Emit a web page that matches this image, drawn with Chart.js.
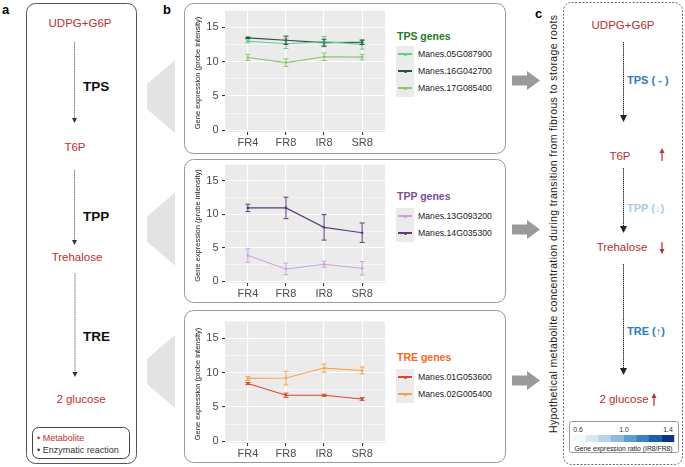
<!DOCTYPE html>
<html>
<head>
<meta charset="utf-8">
<script src="https://cdn.jsdelivr.net/npm/chart.js@4.4.0/dist/chart.umd.min.js"></script>
<style>
  html, body { margin: 0; padding: 0; background: #fff; }
  body { width: 685px; height: 467px; position: relative; overflow: hidden;
         font-family: "Liberation Sans", Arial, sans-serif; }
  #bg { position: absolute; left: 0; top: 0; z-index: 0; }
  canvas { position: absolute; z-index: 2; }
  .legend { position: absolute; left: 396px; top: 0; z-index: 3; }
  .legend .ttl { position: absolute; left: 1px; font-weight: bold; font-size: 10.5px; white-space: nowrap; }
  .legend .keys { position: absolute; left: 0; width: 18px; background: #ebebeb; }
  .legend .row { position: absolute; left: 22px; font-size: 8.7px; color: #1a1a1a; white-space: nowrap; line-height: 10px; }
  .legend .sw { position: absolute; left: 2px; width: 14px; height: 1.2px; }
  .legend .dot { position: absolute; left: 7.5px; width: 3px; height: 3px; border-radius: 50%; }
</style>
</head>
<body>
<canvas id="tps" width="203" height="144" style="left:186px; top:6px;"></canvas>
<canvas id="tpp" width="203" height="141" style="left:186px; top:160px;"></canvas>
<canvas id="tre" width="203" height="144" style="left:186px; top:317px;"></canvas>

<svg id="bg" width="685" height="467" xmlns="http://www.w3.org/2000/svg"
     font-family="Liberation Sans, Arial, sans-serif">
  <!-- panel a -->
  <text x="2" y="14" font-size="13" font-weight="bold">a</text>
  <rect x="26.5" y="3.5" width="110" height="460" rx="9" fill="none" stroke="#555" stroke-width="1"/>
  <g fill="#c0302f" font-size="11.5" text-anchor="middle">
    <text x="80" y="27">UDPG+G6P</text>
    <text x="75" y="151">T6P</text>
    <text x="77" y="261">Trehalose</text>
    <text x="81" y="403">2 glucose</text>
  </g>
  <g stroke="#555" stroke-width="0.8" stroke-dasharray="1.2,0.5">
    <line x1="74.5" y1="42" x2="74.5" y2="119"/>
    <line x1="74.5" y1="170" x2="74.5" y2="241"/>
    <line x1="75" y1="273" x2="75" y2="373"/>
  </g>
  <g fill="#333">
    <polygon points="72,118 77,118 74.5,123"/>
    <polygon points="72,240 77,240 74.5,245"/>
    <polygon points="72.5,372 77.5,372 75,377"/>
  </g>
  <g font-size="13.5" font-weight="bold" fill="#111">
    <text x="83" y="91">TPS</text>
    <text x="83" y="221">TPP</text>
    <text x="83" y="341">TRE</text>
  </g>
  <rect x="32.5" y="427.5" width="97" height="31" rx="6" fill="none" stroke="#444"/>
  <text x="37" y="440.5" font-size="9" fill="#c0302f">• Metabolite</text>
  <text x="37" y="452.5" font-size="9" fill="#333">• Enzymatic reaction</text>

  <!-- panel b decor -->
  <text x="163" y="14" font-size="13" font-weight="bold">b</text>
  <g fill="#e3e3e3">
    <polygon points="147,84 175,60 175,133 147,109"/>
    <polygon points="147,216.5 175,192.5 175,265.5 147,241.5"/>
    <polygon points="147,359 175,335 175,408 147,384"/>
  </g>
  <g fill="none" stroke="#9a9a9a" stroke-width="1">
    <rect x="184.5" y="3.5" width="321" height="150" rx="9"/>
    <rect x="184.5" y="159.5" width="321" height="143" rx="9"/>
    <rect x="184.5" y="310.5" width="321" height="152" rx="9"/>
  </g>
  <g fill="#9a9a9a">
    <polygon points="512,75.5 527,75.5 527,71 540,80.5 527,90 527,85.5 512,85.5"/>
    <polygon points="512,224.5 527,224.5 527,220 540,229.5 527,239 527,234.5 512,234.5"/>
    <polygon points="512,375.5 527,375.5 527,371 540,380.5 527,390 527,385.5 512,385.5"/>
  </g>

  <!-- panel c -->
  <text x="535" y="18" font-size="13" font-weight="bold">c</text>
  <rect x="563.5" y="2.5" width="119" height="462" rx="8" fill="none" stroke="#555" stroke-width="0.9" stroke-dasharray="2,1.6"/>
  <text transform="translate(557,224) rotate(-90)" text-anchor="middle" font-size="10.5" fill="#222"
        textLength="418" lengthAdjust="spacing">Hypothetical metabolite concentration during transition from fibrous to storage roots</text>
  <g fill="#b5302e" font-size="11.5" text-anchor="middle">
    <text x="623" y="29">UDPG+G6P</text>
    <text x="620" y="160">T6P</text>
    <text x="622" y="251">Trehalose</text>
    <text x="624" y="403">2 glucose</text>
  </g>
  <g stroke="#222" stroke-width="1" stroke-dasharray="1.4,0.7">
    <line x1="623.5" y1="42" x2="623.5" y2="116"/>
    <line x1="623.5" y1="168" x2="623.5" y2="227"/>
    <line x1="623.5" y1="264" x2="623.5" y2="369"/>
  </g>
  <g fill="#222">
    <polygon points="620,115 627,115 623.5,122"/>
    <polygon points="620,226 627,226 623.5,233"/>
    <polygon points="620,368 627,368 623.5,375"/>
  </g>
  <g font-size="11" font-weight="bold">
    <text x="627" y="84" fill="#2f7cc0">TPS ( - )</text>
    <text x="627" y="212" fill="#a9cbea">TPP (↓)</text>
    <text x="627" y="335" fill="#2f7cc0">TRE (↑)</text>
  </g>
  <g stroke="#b5302e" stroke-width="1.2" fill="#b5302e">
    <line x1="662" y1="152" x2="662" y2="161"/>
    <polygon stroke="none" points="659.5,153 664.5,153 662,148"/>
    <line x1="662" y1="242" x2="662" y2="250"/>
    <polygon stroke="none" points="659.5,249 664.5,249 662,254"/>
    <line x1="654" y1="397" x2="654" y2="406"/>
    <polygon stroke="none" points="651.5,398 656.5,398 654,393"/>
  </g>
  <rect x="569.5" y="421.5" width="109" height="31" rx="2" fill="#fff" stroke="#999"/>
  <g id="cbar"></g>
  <g font-size="7" fill="#333" text-anchor="middle" id="cbarLabels"></g>
  <text x="623.5" y="450.5" font-size="6.8" fill="#222" text-anchor="middle">Gene expression ratio (IR8/FR8)</text>
</svg>

<script>
// categories
const stages = ["FR4", "FR8", "IR8", "SR8"];
const yTicks = [0, 5, 10, 15];
const yTitle = "Gene expression (probe intensity)";

// TPS genes
const tpsNames = ["Manes.05G087900", "Manes.16G042700", "Manes.17G085400"];
const tps05 = [12.95, 12.6, 12.9, 12.5];
const tps05Err = [0.2, 0.7, 0.75, 0.7];
const tps16 = [13.45, 13.1, 12.75, 12.8];
const tps16Err = [0.1, 0.6, 0.5, 0.3];
const tps17 = [10.6, 9.85, 10.7, 10.65];
const tps17Err = [0.45, 0.55, 0.55, 0.4];

// TPP genes
const tppNames = ["Manes.13G093200", "Manes.14G035300"];
const tpp13 = [3.85, 1.85, 2.55, 1.95];
const tpp13Err = [1.0, 0.87, 0.45, 1.0];
const tpp14 = [10.95, 10.95, 8.05, 7.25];
const tpp14Err = [0.55, 1.6, 1.9, 1.45];

// TRE genes
const treNames = ["Manes.01G053600", "Manes.02G005400"];
const tre01 = [8.4, 6.7, 6.7, 6.15];
const tre01Err = [0.15, 0.3, 0.15, 0.2];
const tre02 = [9.15, 9.2, 10.65, 10.3];
const tre02Err = [0.3, 1.0, 0.6, 0.5];

// colour bar of panel c
const ratioLabels = ["0.6", "1.0", "1.4"];
const ratioColors = ["#f4f8fd", "#d9e7f5", "#b7d2eb", "#8cbde0", "#5b9fd2", "#3a82c1", "#1e5ea8", "#0b357d"];

const FONT = "'Liberation Sans', Arial, sans-serif";

const panelBg = {
  id: "panelBg",
  beforeDraw(chart) {
    const a = chart.chartArea, ctx = chart.ctx;
    ctx.save();
    ctx.fillStyle = "#ebebeb";
    ctx.fillRect(a.left, a.top, a.right - a.left, a.bottom - a.top);
    ctx.restore();
  }
};

const errorBars = {
  id: "errorBars",
  afterDatasetsDraw(chart) {
    const ctx = chart.ctx, x = chart.scales.x, y = chart.scales.y;
    chart.data.datasets.forEach((ds) => {
      ctx.save();
      ctx.strokeStyle = ds.borderColor;
      ctx.lineWidth = 1;
      ds.data.forEach((p, j) => {
        const e = ds.errors[j];
        const px = x.getPixelForValue(p.x);
        const top = y.getPixelForValue(p.y + e);
        const bot = y.getPixelForValue(p.y - e);
        ctx.beginPath();
        ctx.moveTo(px, top); ctx.lineTo(px, bot);
        ctx.moveTo(px - 2.5, top); ctx.lineTo(px + 2.5, top);
        ctx.moveTo(px - 2.5, bot); ctx.lineTo(px + 2.5, bot);
        ctx.stroke();
      });
      ctx.restore();
    });
  }
};

// y tick labels and axis title, placed with the y scale
const yLabels = {
  id: "yLabels",
  afterDraw(chart) {
    const ctx = chart.ctx, y = chart.scales.y, a = chart.chartArea;
    ctx.save();
    ctx.font = "11px " + FONT;
    ctx.fillStyle = "#4d4d4d";
    ctx.textAlign = "right";
    ctx.textBaseline = "middle";
    yTicks.forEach((v) => ctx.fillText(String(v), y.right - 6.5, y.getPixelForValue(v)));
    ctx.translate(y.right - 27.3, (a.top + a.bottom) / 2 + 2);
    ctx.rotate(-Math.PI / 2);
    ctx.font = "7.5px " + FONT;
    ctx.fillStyle = "#1a1a1a";
    ctx.textAlign = "center";
    ctx.fillText(yTitle, 0, 0);
    ctx.restore();
  }
};

function series(label, values, errs, color) {
  return {
    label: label,
    data: values.map((v, i) => ({ x: i, y: v })),
    errors: errs,
    borderColor: color,
    backgroundColor: color,
    borderWidth: 1.1,
    pointRadius: 1.3,
    pointBorderWidth: 0,
    tension: 0
  };
}

function makeChart(id, datasets) {
  const gridVals = [];
  for (let v = 0; v <= 17.5; v += 2.5) gridVals.push(v);
  return new Chart(document.getElementById(id), {
    type: "line",
    data: { datasets: datasets },
    plugins: [panelBg, errorBars, yLabels],
    options: {
      responsive: false,
      animation: false,
      layout: { padding: { top: 2, right: 2, left: 0, bottom: 0 } },
      plugins: { legend: { display: false }, tooltip: { enabled: false } },
      scales: {
        x: {
          type: "linear",
          min: -0.6,
          max: 3.6,
          afterBuildTicks: (s) => { s.ticks = stages.map((_, i) => ({ value: i })); },
          afterFit: (s) => { s.height = 18; },
          ticks: {
            callback: (v) => stages[v],
            color: "#4d4d4d",
            font: { size: 11, family: FONT },
            padding: 1,
            maxRotation: 0,
            autoSkip: false
          },
          grid: { color: "#ffffff", lineWidth: 1.1, tickLength: 3, tickColor: "#333" },
          border: { display: false }
        },
        y: {
          type: "linear",
          min: -0.25,
          max: 17.5,
          afterBuildTicks: (s) => { s.ticks = gridVals.map((v) => ({ value: v })); },
          afterFit: (s) => { s.width = 39; },
          ticks: { display: false },
          grid: {
            color: "#ffffff",
            lineWidth: (c) => (c.tick && yTicks.includes(c.tick.value) ? 1.1 : 0.5),
            tickLength: 3,
            tickColor: (c) => (c.tick && yTicks.includes(c.tick.value) ? "#333" : "rgba(0,0,0,0)")
          },
          border: { display: false },
          title: { display: false }
        }
      }
    }
  });
}

makeChart("tps", [
  series(tpsNames[0], tps05, tps05Err, "#5fd08c"),
  series(tpsNames[1], tps16, tps16Err, "#2f4d44"),
  series(tpsNames[2], tps17, tps17Err, "#8cc46a")
]);
makeChart("tpp", [
  series(tppNames[0], tpp13, tpp13Err, "#c9a2dc"),
  series(tppNames[1], tpp14, tpp14Err, "#5c3b7f")
]);
makeChart("tre", [
  series(treNames[0], tre01, tre01Err, "#d9472c"),
  series(treNames[1], tre02, tre02Err, "#f8a24e")
]);

function makeLegend(title, titleColor, names, colors, titleY, firstRow) {
  const box = document.createElement("div");
  box.className = "legend";
  const t = document.createElement("div");
  t.className = "ttl";
  t.textContent = title;
  t.style.color = titleColor;
  t.style.top = (titleY - 6.5) + "px";
  box.appendChild(t);
  const keys = document.createElement("div");
  keys.className = "keys";
  keys.style.top = (firstRow - 8.5) + "px";
  keys.style.height = (names.length * 17) + "px";
  box.appendChild(keys);
  names.forEach((n, i) => {
    const cy = firstRow + i * 17;
    const sw = document.createElement("div");
    sw.className = "sw";
    sw.style.top = (cy - 0.6) + "px";
    sw.style.background = colors[i];
    box.appendChild(sw);
    const dot = document.createElement("div");
    dot.className = "dot";
    dot.style.top = (cy - 1.5) + "px";
    dot.style.background = colors[i];
    box.appendChild(dot);
    const r = document.createElement("div");
    r.className = "row";
    r.textContent = n;
    r.style.top = (cy - 5) + "px";
    box.appendChild(r);
  });
  document.body.appendChild(box);
}

makeLegend("TPS genes", "#1f7a24", tpsNames, ["#5fd08c", "#2f4d44", "#8cc46a"], 36, 54);
makeLegend("TPP genes", "#7b4f96", tppNames, ["#c9a2dc", "#5c3b7f"], 196, 216);
makeLegend("TRE genes", "#f26a24", treNames, ["#d9472c", "#f8a24e"], 357, 377);

// colour bar
const NS = "http://www.w3.org/2000/svg";
const cbar = document.getElementById("cbar");
const segW = 101 / ratioColors.length;
ratioColors.forEach((c, i) => {
  const r = document.createElementNS(NS, "rect");
  r.setAttribute("x", 573 + i * segW);
  r.setAttribute("y", 435);
  r.setAttribute("width", segW + 0.2);
  r.setAttribute("height", 7);
  r.setAttribute("fill", c);
  cbar.appendChild(r);
});
const lab = document.getElementById("cbarLabels");
const labX = [578, 624, 668];
ratioLabels.forEach((s, i) => {
  const t = document.createElementNS(NS, "text");
  t.setAttribute("x", labX[i]);
  t.setAttribute("y", 432);
  t.textContent = s;
  lab.appendChild(t);
});
</script>
</body>
</html>
